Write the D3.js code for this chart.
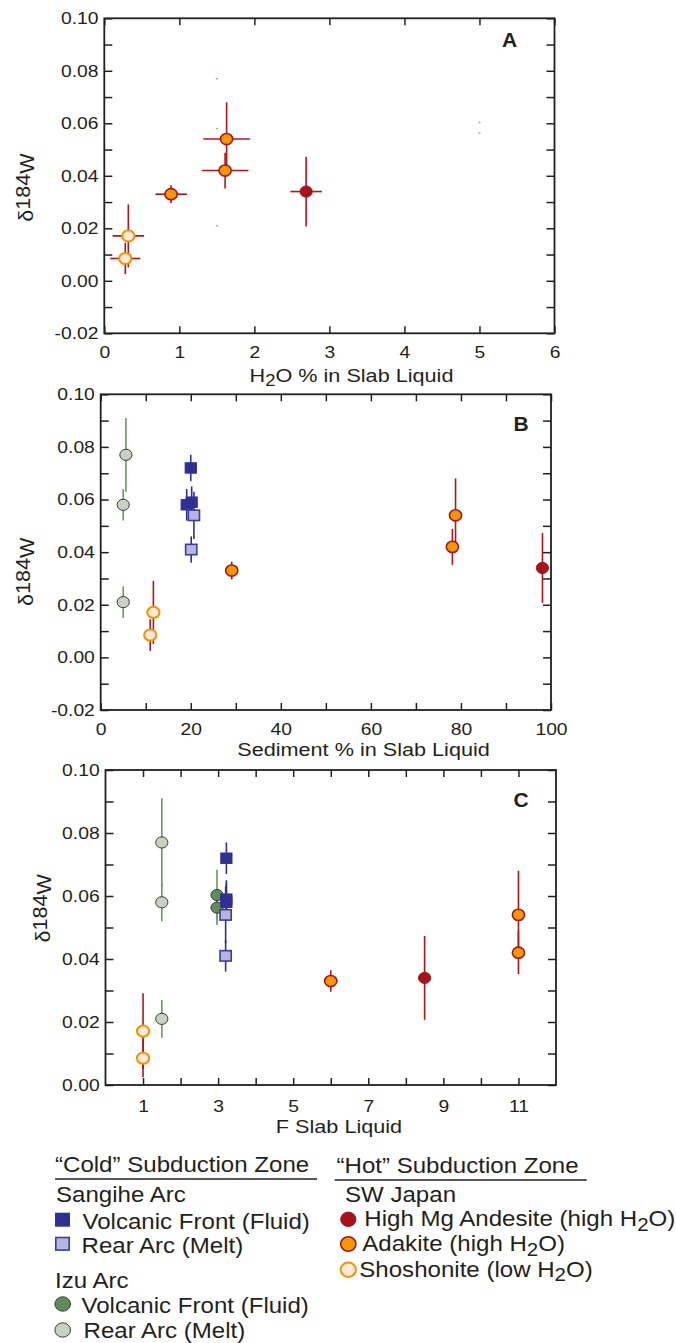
<!DOCTYPE html>
<html><head><meta charset="utf-8">
<script src="https://cdn.jsdelivr.net/npm/d3@7"></script>
<style>
body{margin:0;background:#fff}
svg{display:block}
text{font-family:"Liberation Sans",Arial,Helvetica,sans-serif;fill:#231f20}
</style>
</head><body><div id="chart"></div>
<script>
// ---------------- DATA ----------------
// δ184W values and 2σ errors
const shoshoniteW    = [0.0171, 0.0085];
const shoshoniteWErr = [0.0120, 0.0060];
const shoshoniteH2O  = [0.32, 0.28];
const shoshoniteH2OErr = [0.21, 0.20];
const shoshoniteSed  = [11.7, 11.0];
const shoshoniteF    = [1.0, 1.0];

const adakiteW    = [0.0330, 0.0540, 0.0420];
const adakiteWErr = [0.0034, 0.0140, 0.0068];
const adakiteH2O  = [0.89, 1.63, 1.61];
const adakiteH2OErr = [0.21, 0.31, 0.31];
const adakiteSed  = [29.1, 78.8, 78.1];
const adakiteF    = [6.0, 11.0, 11.0];

const hmaW    = [0.0340];
const hmaWErr = [0.0133];
const hmaH2O  = [2.69];
const hmaH2OErr = [0.21];
const hmaSed  = [98.1];
const hmaF    = [8.5];

const sangiheVFW    = [0.0720, 0.0590, 0.0580];
const sangiheVFWErr = [0.0050, 0.0060, 0.0060];
const sangiheVFSed  = [20.0, 20.2, 19.1];
const sangiheVFF    = [3.22, 3.22, 3.22];

const sangiheRAW    = [0.0540, 0.0410];
const sangiheRAWErr = [0.0090, 0.0050];
const sangiheRASed  = [20.7, 20.1];
const sangiheRAF    = [3.20, 3.20];

const izuVFW    = [0.0603, 0.0563];
const izuVFWErr = [0.0080, 0.0055];
const izuVFH2O  = [5.0, 5.0];
const izuVFF    = [2.97, 2.97];

const izuRAW    = [0.0770, 0.0580, 0.0210];
const izuRAWErr = [0.0140, 0.0060, 0.0060];
const izuRAH2O  = [1.5, 1.5, 1.5];
const izuRASed  = [5.6, 5.0, 5.0];
const izuRAF    = [1.5, 1.5, 1.5];

// tick values / labels
const yTicksAB  = [-0.02,-0.01,0.00,0.01,0.02,0.03,0.04,0.05,0.06,0.07,0.08,0.09,0.10];
const yLabelsAB = [-0.02,0.00,0.02,0.04,0.06,0.08,0.10];
const yTicksC   = [0.00,0.01,0.02,0.03,0.04,0.05,0.06,0.07,0.08,0.09,0.10];
const yLabelsC  = [0.00,0.02,0.04,0.06,0.08,0.10];
const aXTicks   = [0,1,2,3,4,5,6];
const aXLabels  = [0,1,2,3,4,5,6];
const bXTicks   = [0,10,20,30,40,50,60,70,80,90,100];
const bXLabels  = [0,20,40,60,80,100];
const cXTicks   = [1,2,3,4,5,6,7,8,9,10,11];
const cXLabels  = [1,3,5,7,9,11];

// ---------------- STYLE ----------------
const INK = "#231f20";
const C = {
  hma: "#a5141b", ada: "#f39800", shoFill: "#fdeadb", shoStroke: "#f39200",
  redBar: "#b3141c",
  sVF: "#2e3192", sRAFill: "#b5b5de", sRAStroke: "#3a3e9e",
  iVF: "#5f8c58", iRA: "#c8d2c1", iStroke: "#3b3b3b", greenBar: "#6a9a5c"
};
const SX = 1.17;   // horizontal stretch of chart text
const SXL = 1.12;  // legend text stretch

const W = 676, H = 1343;
const svg = d3.select("#chart").append("svg").attr("width", W).attr("height", H);
svg.append("rect").attr("width", W).attr("height", H).attr("fill", "#fff");

function stext(parent, x, y, size, sx, anchor, weight) {
  return parent.append("text")
    .attr("transform", `translate(${x},${y}) scale(${sx},1)`)
    .attr("font-size", size)
    .attr("text-anchor", anchor || "start")
    .attr("font-weight", weight || "normal");
}
function has(arr, d) { return arr.some(v => Math.abs(v - d) < 1e-9); }

function zip(xs, ys, yes, xes) {
  return xs.map((x, i) => ({x, y: ys[i], ye: yes ? yes[i] : 0, xe: xes ? xes[i] : 0}));
}

function drawPanel(cfg) {
  const g = svg.append("g");
  const x = d3.scaleLinear().domain(cfg.xDomain).range([cfg.left, cfg.right]);
  const y = d3.scaleLinear().domain(cfg.yDomain).range([cfg.bottom, cfg.top]);

  const styleAxis = sel => {
    sel.attr("font-size", null).attr("font-family", null);
    sel.select(".domain").remove();
    sel.selectAll("line").attr("stroke", INK).attr("stroke-width", 1.5);
    sel.selectAll("text").attr("fill", INK).attr("font-size", 16.5)
       .attr("transform", `scale(${SX},1)`);
  };

  g.append("g").attr("transform", `translate(${cfg.left},0)`)
    .call(d3.axisLeft(y).tickValues(cfg.yTicks).tickSizeInner(-8).tickSizeOuter(0)
      .tickPadding(5).tickFormat(d => has(cfg.yLabels, d) ? d.toFixed(2) : ""))
    .call(styleAxis);
  g.append("g").attr("transform", `translate(${cfg.right},0)`)
    .call(d3.axisRight(y).tickValues(cfg.yTicks).tickSizeInner(-8).tickSizeOuter(0).tickFormat(""))
    .call(styleAxis);
  g.append("g").attr("transform", `translate(0,${cfg.bottom})`)
    .call(d3.axisBottom(x).tickValues(cfg.xTicks).tickSizeInner(-7).tickSizeOuter(0)
      .tickPadding(cfg.xPad).tickFormat(d => has(cfg.xLabels, d) ? String(d) : ""))
    .call(styleAxis);
  g.append("g").attr("transform", `translate(0,${cfg.top})`)
    .call(d3.axisTop(x).tickValues(cfg.xTicks).tickSizeInner(-7).tickSizeOuter(0).tickFormat(""))
    .call(styleAxis);

  g.append("rect").attr("x", cfg.left).attr("y", cfg.top)
    .attr("width", cfg.right - cfg.left).attr("height", cfg.bottom - cfg.top)
    .attr("fill", "none").attr("stroke", INK).attr("stroke-width", 1.8);

  // error bars first
  const bars = g.append("g");
  cfg.series.forEach(s => {
    if (s.tiny) return;
    s.data.forEach(d => {
      if (d.ye) bars.append("line").attr("x1", x(d.x)).attr("x2", x(d.x))
        .attr("y1", y(d.y - d.ye)).attr("y2", y(d.y + d.ye))
        .attr("stroke", s.bar).attr("stroke-width", 1.6);
      if (d.xe) bars.append("line").attr("y1", y(d.y)).attr("y2", y(d.y))
        .attr("x1", x(d.x - d.xe)).attr("x2", x(d.x + d.xe))
        .attr("stroke", s.bar).attr("stroke-width", 1.6);
    });
  });
  // markers
  const marks = g.append("g");
  cfg.series.forEach(s => {
    s.data.forEach(d => {
      if (s.tiny) {
        marks.append("rect").attr("x", x(d.x) - 1).attr("y", y(d.y) - 0.7)
          .attr("width", 2).attr("height", 1.4).attr("fill", s.bar).attr("opacity", 0.8);
      } else if (s.shape === "square") {
        marks.append("rect").attr("x", x(d.x) - 5.6).attr("y", y(d.y) - 5.2)
          .attr("width", 11.2).attr("height", 10.4)
          .attr("fill", s.fill).attr("stroke", s.stroke).attr("stroke-width", s.sw);
      } else {
        marks.append("ellipse").attr("cx", x(d.x)).attr("cy", y(d.y))
          .attr("rx", 6.1).attr("ry", 5.6)
          .attr("fill", s.fill).attr("stroke", s.stroke).attr("stroke-width", s.sw);
      }
    });
  });

  // panel letter
  stext(g, cfg.letterX, cfg.letterY, 20, 1.05, "middle", "bold").text(cfg.letter);

  // x title
  const xt = stext(g, cfg.xTitleX, cfg.xTitleY, 18.5, SX, "middle");
  cfg.xTitle.forEach(([t, sub]) => {
    const ts = xt.append("tspan").text(t);
    if (sub) ts.attr("dy", 4).attr("font-size", "0.85em");
    else if (xt.selectAll("tspan").size() > 1) ts.attr("dy", -4);
  });

  // y title δ184W
  const yt = g.append("text")
    .attr("transform", `translate(${cfg.yTitleX},${cfg.yTitleY}) rotate(-90) scale(1.08,1)`)
    .attr("font-size", 20).attr("text-anchor", "middle");
  yt.append("tspan").text("δ");
  yt.append("tspan").attr("dy", -3).text("184");
  yt.append("tspan").attr("dy", 3.5).text("W");
}

const S = {
  izuRA:  {shape: "circle", fill: C.iRA, stroke: C.iStroke, sw: 1, bar: C.greenBar},
  izuVF:  {shape: "circle", fill: C.iVF, stroke: C.iStroke, sw: 1, bar: C.greenBar},
  sVF:    {shape: "square", fill: C.sVF, stroke: C.sVF, sw: 1, bar: C.sVF},
  sRA:    {shape: "square", fill: C.sRAFill, stroke: C.sRAStroke, sw: 1.6, bar: C.sVF},
  hma:    {shape: "circle", fill: C.hma, stroke: C.hma, sw: 1, bar: C.redBar},
  ada:    {shape: "circle", fill: C.ada, stroke: C.hma, sw: 1.6, bar: C.redBar},
  sho:    {shape: "circle", fill: C.shoFill, stroke: C.shoStroke, sw: 2, bar: C.redBar}
};
const ser = (base, data, extra) => Object.assign({}, base, {data}, extra || {});

// Panel A
drawPanel({
  left: 104.3, right: 554.5, top: 18.3, bottom: 333.3,
  xDomain: [0, 6], yDomain: [-0.02, 0.10],
  xTicks: aXTicks, xLabels: aXLabels, yTicks: yTicksAB, yLabels: yLabelsAB, xPad: 13,
  letter: "A", letterX: 509.7, letterY: 47.3,
  xTitle: [["H"], ["2", true], ["O % in Slab Liquid"]], xTitleX: 351.5, xTitleY: 381.7,
  yTitleX: 33.3, yTitleY: 187.5,
  series: [
    ser(S.izuRA, zip(izuRAH2O, izuRAW), {tiny: true}),
    ser(S.izuVF, zip(izuVFH2O, izuVFW), {tiny: true}),
    ser(S.hma, zip(hmaH2O, hmaW, hmaWErr, hmaH2OErr)),
    ser(S.ada, zip(adakiteH2O, adakiteW, adakiteWErr, adakiteH2OErr)),
    ser(S.sho, zip(shoshoniteH2O, shoshoniteW, shoshoniteWErr, shoshoniteH2OErr))
  ]
});

// Panel B
drawPanel({
  left: 100.7, right: 551, top: 394.3, bottom: 710,
  xDomain: [0, 100], yDomain: [-0.02, 0.10],
  xTicks: bXTicks, xLabels: bXLabels, yTicks: yTicksAB, yLabels: yLabelsAB, xPad: 13,
  letter: "B", letterX: 521, letterY: 430.5,
  xTitle: [["Sediment % in Slab Liquid"]], xTitleX: 363.5, xTitleY: 755.5,
  yTitleX: 33.3, yTitleY: 571.7,
  series: [
    ser(S.izuRA, zip(izuRASed, izuRAW, izuRAWErr)),
    ser(S.sVF, zip(sangiheVFSed, sangiheVFW, sangiheVFWErr)),
    ser(S.sRA, zip(sangiheRASed, sangiheRAW, sangiheRAWErr)),
    ser(S.hma, zip(hmaSed, hmaW, hmaWErr)),
    ser(S.ada, zip(adakiteSed, adakiteW, adakiteWErr)),
    ser(S.sho, zip(shoshoniteSed, shoshoniteW, shoshoniteWErr))
  ]
});

// Panel C
drawPanel({
  left: 105.5, right: 556, top: 770, bottom: 1085,
  xDomain: [0, 12], yDomain: [0, 0.10],
  xTicks: cXTicks, xLabels: cXLabels, yTicks: yTicksC, yLabels: yLabelsC, xPad: 15,
  letter: "C", letterX: 521, letterY: 807,
  xTitle: [["F Slab Liquid"]], xTitleX: 339, xTitleY: 1133.3,
  yTitleX: 50, yTitleY: 908.3,
  series: [
    ser(S.izuRA, zip(izuRAF, izuRAW, izuRAWErr)),
    ser(S.izuVF, zip(izuVFF, izuVFW, izuVFWErr)),
    ser(S.sVF, zip(sangiheVFF, sangiheVFW, sangiheVFWErr)),
    ser(S.sRA, zip(sangiheRAF, sangiheRAW, sangiheRAWErr)),
    ser(S.hma, zip(hmaF, hmaW, hmaWErr)),
    ser(S.ada, zip(adakiteF, adakiteW, adakiteWErr)),
    ser(S.sho, zip(shoshoniteF, shoshoniteW, shoshoniteWErr))
  ]
});

// ---------------- LEGEND ----------------
const coldTitle = "\u201CCold\u201D Subduction Zone";
const hotTitle = "\u201CHot\u201D Subduction Zone";
const sangiheLabels = ["Volcanic Front (Fluid)", "Rear Arc (Melt)"];
const izuLabels = ["Volcanic Front (Fluid)", "Rear Arc (Melt)"];
const japanLabels = [
  [["High Mg Andesite (high H"], ["2", true], ["O)"]],
  [["Adakite (high H"], ["2", true], ["O)"]],
  [["Shoshonite (low H"], ["2", true], ["O)"]]
];
const LF = 21.5;
const lg = svg.append("g");

function richText(parent, x, y, parts) {
  const t = stext(parent, x, y, LF, SXL, "start");
  let sub = false;
  parts.forEach(([s, isSub]) => {
    const ts = t.append("tspan").text(s);
    if (isSub) { ts.attr("dy", 4.5).attr("font-size", "0.85em"); sub = true; }
    else if (sub) { ts.attr("dy", -4.5); sub = false; }
  });
  return t;
}

// cold column
stext(lg, 55, 1172, LF, SXL).text(coldTitle);
lg.append("line").attr("x1", 55).attr("x2", 317).attr("y1", 1179).attr("y2", 1179)
  .attr("stroke", INK).attr("stroke-width", 1.4);
stext(lg, 56, 1201.5, LF, SXL).text("Sangihe Arc");
lg.append("rect").attr("x", 55).attr("y", 1212.7).attr("width", 15).attr("height", 14)
  .attr("fill", C.sVF);
stext(lg, 82.5, 1229.3, LF, SXL).text(sangiheLabels[0]);
lg.append("rect").attr("x", 55.8).attr("y", 1237.5).attr("width", 13.4).attr("height", 12.6)
  .attr("fill", C.sRAFill).attr("stroke", C.sRAStroke).attr("stroke-width", 1.6);
stext(lg, 81.5, 1253.3, LF, SXL).text(sangiheLabels[1]);
stext(lg, 55, 1287.7, LF, SXL).text("Izu Arc");
lg.append("ellipse").attr("cx", 62.7).attr("cy", 1304).attr("rx", 7.8).attr("ry", 7.2)
  .attr("fill", C.iVF).attr("stroke", C.iStroke).attr("stroke-width", 1);
stext(lg, 81.5, 1313.3, LF, SXL).text(izuLabels[0]);
lg.append("ellipse").attr("cx", 62.7).attr("cy", 1330).attr("rx", 7.8).attr("ry", 7.2)
  .attr("fill", C.iRA).attr("stroke", C.iStroke).attr("stroke-width", 1);
stext(lg, 83.5, 1337.5, LF, SXL).text(izuLabels[1]);

// hot column
stext(lg, 336.5, 1173.3, LF, SXL).text(hotTitle);
lg.append("line").attr("x1", 334.7).attr("x2", 586.7).attr("y1", 1180).attr("y2", 1180)
  .attr("stroke", INK).attr("stroke-width", 1.4);
stext(lg, 345, 1201.7, LF, SXL).text("SW Japan");
const hotMarks = [S.hma, S.ada, S.sho];
const hotY = [1219.3, 1244, 1269.7];
const hotTextX = [364.3, 362.3, 359.3];
const hotTextY = [1226, 1251, 1276.7];
hotMarks.forEach((m, i) => {
  lg.append("ellipse").attr("cx", 348.3).attr("cy", hotY[i]).attr("rx", 7.6).attr("ry", 7.2)
    .attr("fill", m.fill).attr("stroke", m.stroke).attr("stroke-width", m.sw);
  richText(lg, hotTextX[i], hotTextY[i], japanLabels[i]);
});
</script>
</body></html>
